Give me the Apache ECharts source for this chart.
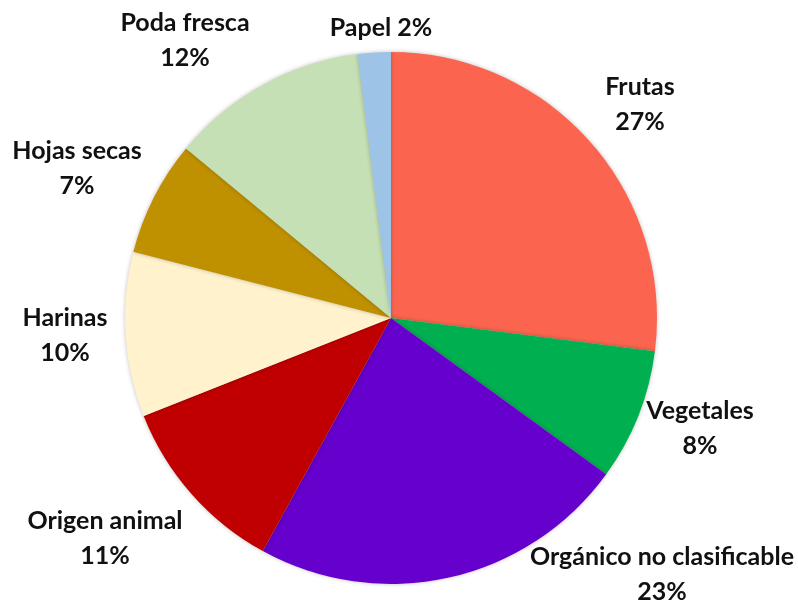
<!DOCTYPE html>
<html>
<head>
<meta charset="utf-8">
<script src="https://cdn.jsdelivr.net/npm/echarts@6/dist/echarts.min.js"></script>
<style>
  html, body { margin: 0; padding: 0; background: #ffffff; }
  #chart { width: 798px; height: 600px; }
</style>
</head>
<body>
<div id="chart"></div>
<script>
// Composición de residuos orgánicos (%)
const categories = [
  'Frutas', 'Vegetales', 'Orgánico no clasificable', 'Origen animal',
  'Harinas', 'Hojas secas', 'Poda fresca', 'Papel'
];
const values = [27, 8, 23, 11, 10, 7, 12, 2];
const colors = [
  '#FB654F', '#00B050', '#6600CC', '#C00000',
  '#FFF2CC', '#BF9000', '#C5E0B4', '#9DC3E6'
];

// Label anchor points (centre of each text block), in pixels
const labelAnchors = [
  [640, 104], [700, 428], [662, 574], [105, 538],
  [65, 335], [77, 168], [185, 40], [381, 28]
];

const chart = echarts.init(document.getElementById('chart'), null, { renderer: 'canvas' });

const data = categories.map((name, i) => ({
  name,
  value: values[i],
  itemStyle: { color: colors[i] },
  label: {
    formatter: name === 'Papel' ? '{b} {c}%' : '{b}\n{c}%'
  }
}));

chart.setOption({
  animation: false,
  series: [{
    type: 'pie',
    center: [391, 318],
    radius: 266,
    startAngle: 90,
    clockwise: true,
    data,
    itemStyle: {
      borderWidth: 0,
      shadowBlur: 4,
      shadowColor: 'rgba(0,0,0,0.25)'
    },
    label: {
      show: true,
      position: 'outside',
      fontFamily: 'Lato',
      fontWeight: 'bold',
      fontSize: 25,
      lineHeight: 35,
      color: '#111111',
      align: 'center',
      overflow: 'none'
    },
    labelLine: { show: false },
    labelLayout: (params) => {
      const p = labelAnchors[params.dataIndex];
      return { x: p[0], y: p[1], align: 'center', verticalAlign: 'middle' };
    }
  }]
});
</script>
</body>
</html>
